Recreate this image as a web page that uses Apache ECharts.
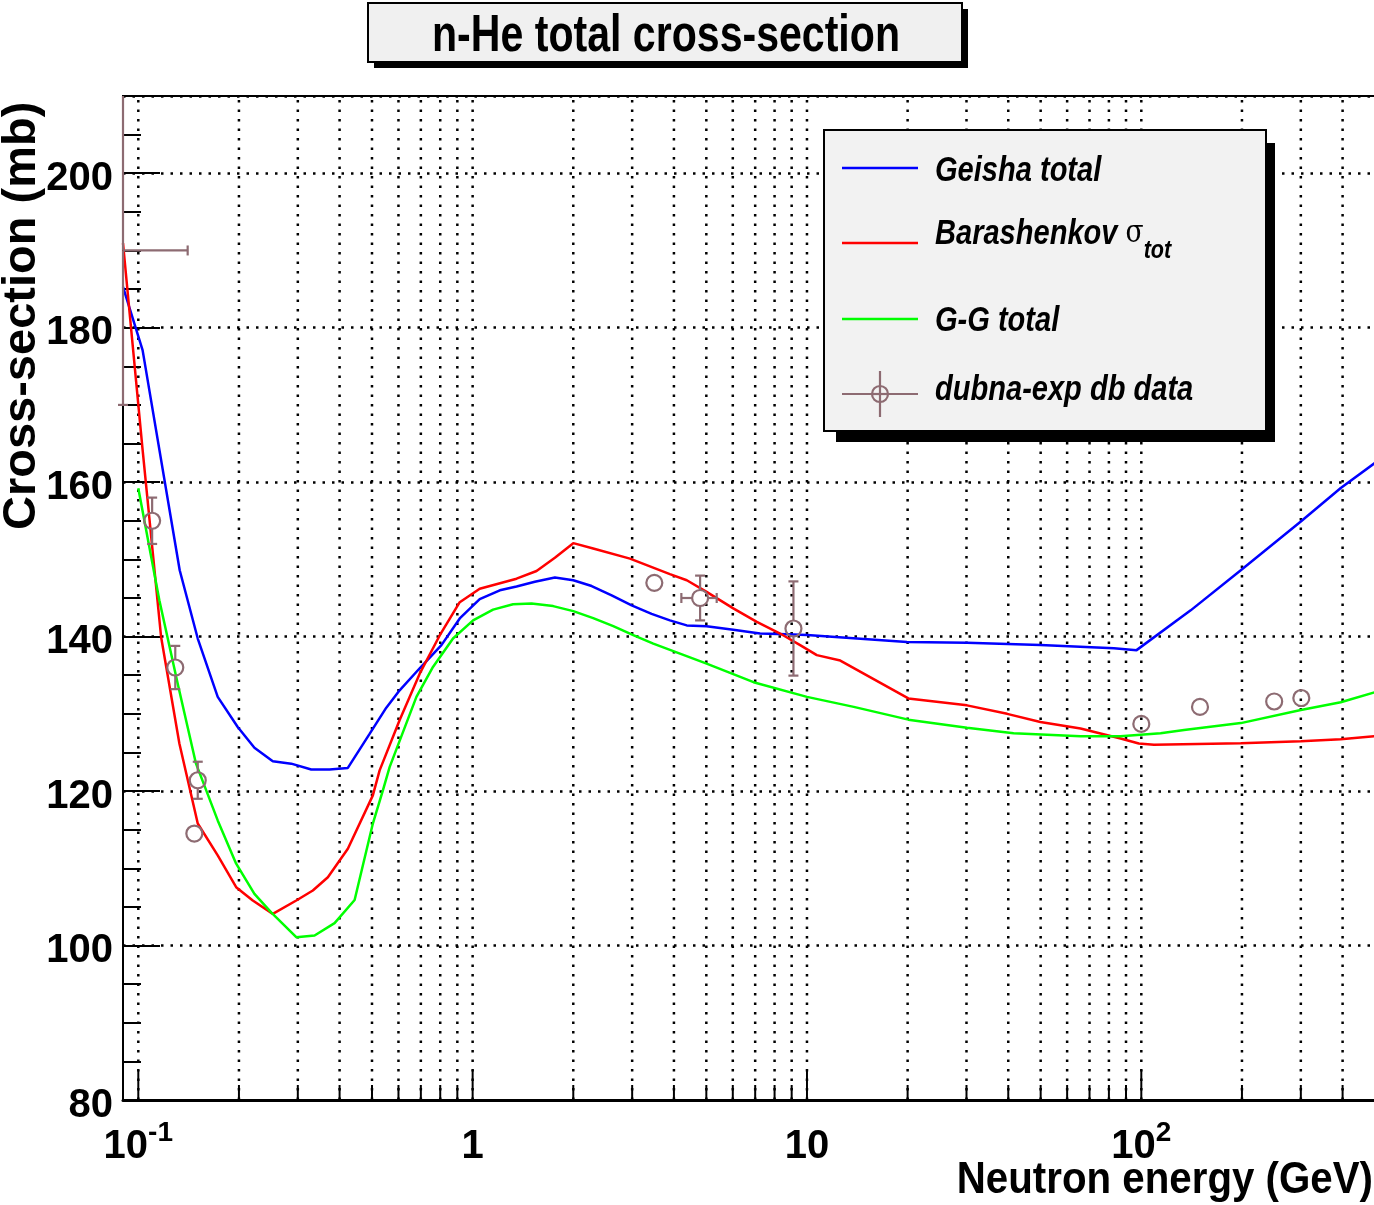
<!DOCTYPE html>
<html>
<head>
<meta charset="utf-8">
<title>n-He total cross-section</title>
<script src="https://cdn.jsdelivr.net/npm/echarts@6/dist/echarts.min.js"></script>
<style>
  html, body { margin: 0; padding: 0; background: #fff; }
  #chart { width: 1374px; height: 1205px; }
</style>
</head>
<body>
<div id="chart"></div>
<script>
// Neutron energy (GeV) and total n-He cross-section (mb) for each model
const geishaE = [0.09, 0.103, 0.133, 0.1506, 0.1728, 0.1983, 0.2225, 0.2525, 0.2867, 0.329, 0.3733, 0.4234, 0.4918, 0.5518, 0.6049, 0.6945, 0.8065, 0.915, 1.05, 1.206, 1.353, 1.535, 1.762, 2.0, 2.27, 2.605, 2.99, 3.43, 3.89, 4.37, 5.01, 6.02, 7.24, 8.7, 10, 19.9, 30.1, 49.9, 82.8, 96.8, 140.5, 198.4, 300, 395, 500];
const geishaSigma = [185.3, 177.1, 148.6, 139.75, 132.2, 128.3, 125.6, 123.85, 123.55, 122.8, 122.8, 123.0, 127.4, 130.8, 133.05, 135.9, 138.9, 142.35, 144.85, 146.0, 146.5, 147.1, 147.65, 147.3, 146.55, 145.35, 144.05, 142.95, 142.1, 141.45, 141.35, 140.9, 140.4, 140.3, 140.2, 139.3, 139.2, 138.9, 138.5, 138.25, 143.4, 148.6, 154.9, 159.25, 162.5];

const barE = [0.09, 0.103, 0.117, 0.1327, 0.1506, 0.1728, 0.1962, 0.22, 0.2525, 0.2968, 0.3327, 0.369, 0.4234, 0.503, 0.527, 0.605, 0.6945, 0.797, 0.915, 1.05, 1.353, 1.553, 1.762, 2.0, 2.294, 2.955, 3.89, 4.37, 5.01, 6.02, 7.08, 8.31, 9.54, 10.7, 12.58, 20.1, 30.1, 39.7, 49.9, 65.8, 75.5, 86.7, 98.3, 109.1, 198.4, 300, 395, 500];
const barSigma = [190.95, 164.2, 139.96, 126.15, 115.8, 111.67, 107.56, 105.83, 104.1, 105.83, 107.13, 108.85, 112.53, 119.44, 122.68, 129.2, 135.2, 140.15, 144.46, 146.2, 147.5, 148.5, 150.2, 152.1, 151.4, 150.1, 148.1, 147.3, 145.8, 143.65, 141.9, 140.4, 138.9, 137.6, 136.9, 132.0, 131.1, 130.0, 128.95, 128.1, 127.45, 126.8, 126.15, 126.0, 126.2, 126.45, 126.7, 127.1];

const ggE = [0.1, 0.1156, 0.1312, 0.1488, 0.1728, 0.1962, 0.2225, 0.2497, 0.2968, 0.3367, 0.3864, 0.4436, 0.503, 0.539, 0.5645, 0.679, 0.761, 0.8735, 1.003, 1.151, 1.321, 1.5, 1.741, 2.0, 2.294, 2.634, 3.023, 3.47, 4.17, 5.01, 6.92, 10, 13.8, 20.1, 30.1, 41.5, 65.8, 86.7, 114.2, 134.2, 198.4, 300, 395, 500];
const ggSigma = [159.2, 144.7, 133.9, 123.55, 116.2, 110.6, 106.7, 104.3, 101.08, 101.3, 102.9, 105.9, 115.8, 120.1, 123.1, 132.2, 136.07, 139.75, 142.1, 143.5, 144.2, 144.3, 143.95, 143.3, 142.4, 141.35, 140.2, 139.1, 137.8, 136.5, 134.1, 132.2, 130.9, 129.25, 128.2, 127.5, 127.1, 127.1, 127.5, 127.9, 128.8, 130.5, 131.5, 132.8];

// Dubna measurements: energy, cross-section, energy error, cross-section error
const dubnaE = [0.085, 0.11, 0.129, 0.1506, 0.1471, 3.495, 4.79, 9.11, 100, 149.8, 249.7, 301];
const dubnaSigma = [190.0, 155.0, 136.0, 121.4, 114.5, 146.96, 145.0, 141.05, 128.7, 130.9, 131.6, 132.05];
const dubnaErrE = [0.0555, 0, 0, 0, 0, 0, 0.58, 0, 0, 0, 0, 0];
const dubnaErrSigma = [20, 3.0, 2.8, 2.4, 0, 0, 2.9, 6.1, 0, 0, 0, 0];

// Logarithmic x axis: labelled decades and the 2..9 subdivisions
const xDecades = [0.1, 1, 10, 100];
const xSubTicks = [0.2, 0.3, 0.4, 0.5, 0.6, 0.7, 0.8, 0.9, 2, 3, 4, 5, 6, 7, 8, 9, 20, 30, 40, 50, 60, 70, 80, 90, 200, 300, 400];
const xMin = 0.09, xMax = 500;
const yMin = 80, yMax = 210;

const SANS = '"Liberation Sans", Arial, Helvetica, sans-serif';
const DUBNA_COLOR = '#8d6b72';
const GRID_DASH = [2.5, 7];

function pairs(xs, ys) { return xs.map((x, i) => [x, ys[i]]); }

const tickData = xDecades.map(v => [v, yMin, 1]).concat(xSubTicks.map(v => [v, yMin, 0]));
const dubnaData = dubnaE.map((e, i) => [e, dubnaSigma[i], dubnaErrE[i], dubnaErrSigma[i]]);

// dotted vertical grid line plus an inward tick for every x tick value
function renderXTick(params, api) {
  const v = api.value(0);
  const major = api.value(2) === 1;
  const b = api.coord([v, yMin]);
  const t = api.coord([v, yMax]);
  return {
    type: 'group',
    children: [
      { type: 'line', shape: { x1: b[0], y1: b[1], x2: t[0], y2: t[1] },
        style: { stroke: '#000', lineWidth: 2.5, lineDash: GRID_DASH } },
      { type: 'line', shape: { x1: b[0], y1: b[1], x2: b[0], y2: b[1] - (major ? 30 : 15) },
        style: { stroke: '#000', lineWidth: 2 } }
    ]
  };
}

// open circle with error bars, bars kept inside the frame
function renderDubna(params, api) {
  const E = api.value(0), s = api.value(1), dE = api.value(2), dS = api.value(3);
  const cs = params.coordSys;
  const L = cs.x, R = cs.x + cs.width, T = cs.y, B = cs.y + cs.height;
  const c = api.coord([E, s]);
  const cx = v => Math.min(R, Math.max(L, v));
  const cy = v => Math.min(B, Math.max(T, v));
  const style = { stroke: DUBNA_COLOR, lineWidth: 2.2, fill: null };
  const r = 8, cap = 5;
  const visible = c[0] >= L && c[0] <= R && c[1] >= T && c[1] <= B;
  const gap = visible ? r : 0;
  const kids = [];
  if (dS > 0) {
    const yTop = api.coord([E, s + dS])[1];
    const yBot = api.coord([E, s - dS])[1];
    const x = cx(c[0]);
    kids.push({ type: 'line', shape: { x1: x, y1: cy(c[1] - gap), x2: x, y2: cy(yTop) }, style });
    kids.push({ type: 'line', shape: { x1: x, y1: cy(c[1] + gap), x2: x, y2: cy(yBot) }, style });
    if (yTop > T) kids.push({ type: 'line', shape: { x1: x - cap, y1: yTop, x2: x + cap, y2: yTop }, style });
    if (yBot < B) kids.push({ type: 'line', shape: { x1: x - cap, y1: yBot, x2: x + cap, y2: yBot }, style });
  }
  if (dE > 0) {
    const xLo = api.coord([E - dE, s])[0];
    const xHi = api.coord([E + dE, s])[0];
    const y = cy(c[1]);
    kids.push({ type: 'line', shape: { x1: cx(c[0] - gap), y1: y, x2: cx(xLo), y2: y }, style });
    kids.push({ type: 'line', shape: { x1: cx(c[0] + gap), y1: y, x2: cx(xHi), y2: y }, style });
    if (xLo > L) kids.push({ type: 'line', shape: { x1: xLo, y1: y - cap, x2: xLo, y2: y + cap }, style });
    if (xHi < R) kids.push({ type: 'line', shape: { x1: xHi, y1: y - cap, x2: xHi, y2: y + cap }, style });
  }
  if (visible) kids.push({ type: 'circle', shape: { cx: c[0], cy: c[1], r }, style });
  return { type: 'group', children: kids };
}

function decadeLabel(v) {
  const lg = Math.log10(v);
  const e = Math.round(lg);
  if (Math.abs(lg - e) > 1e-6) return '';
  if (e === 0) return '{b|1}';
  if (e === 1) return '{b|10}';
  return '{b|10}{s|' + e + '}';
}

const lineSeries = (name, xs, ys, color) => ({
  name, type: 'line', data: pairs(xs, ys), showSymbol: false, symbol: 'none',
  lineStyle: { color, width: 2.5 }, itemStyle: { color }, z: 3, silent: true
});

const legendFont = { fontFamily: SANS, fontWeight: 'bold', fontStyle: 'italic', fontSize: 35, fill: '#000' };
const LEGEND_SX = 0.83;

const option = {
  animation: false,
  backgroundColor: '#fff',
  grid: {
    left: 123, top: 96, right: -1, bottom: 105,
    outerBoundsMode: 'none', containLabel: false,
    show: true, borderColor: '#000', borderWidth: 2, backgroundColor: 'transparent'
  },
  xAxis: {
    type: 'log', logBase: 10, min: xMin, max: xMax,
    axisLine: { show: true, lineStyle: { color: '#000', width: 3 } },
    axisTick: { show: false },
    minorTick: { show: false },
    splitLine: { show: false },
    axisLabel: {
      margin: 27, showMinLabel: false, showMaxLabel: false,
      formatter: decadeLabel,
      rich: {
        b: { fontFamily: SANS, fontWeight: 'bold', fontSize: 40, lineHeight: 40, color: '#000',
             verticalAlign: 'bottom', padding: [8, 0, 0, 0] },
        s: { fontFamily: SANS, fontWeight: 'bold', fontSize: 28, lineHeight: 28, color: '#000',
             verticalAlign: 'bottom', padding: [0, 0, 20, 0] }
      }
    }
  },
  yAxis: [
    {
      type: 'value', min: yMin, max: yMax, interval: 20, position: 'left',
      axisLine: { show: true, lineStyle: { color: '#000', width: 2 } },
      axisTick: { show: true, inside: true, length: 37, lineStyle: { color: '#000', width: 2 } },
      axisLabel: {
        fontFamily: SANS, fontWeight: 'bold', fontSize: 40, color: '#000',
        margin: 10, showMaxLabel: false, verticalAlign: 'top', lineHeight: 11
      },
      splitLine: { show: true, lineStyle: { color: '#000', width: 2.5, type: GRID_DASH } }
    },
    {
      type: 'value', min: yMin, max: yMax, interval: 5, position: 'left',
      axisLine: { show: false },
      axisTick: { show: true, inside: true, length: 18, lineStyle: { color: '#000', width: 2 } },
      axisLabel: { show: false },
      splitLine: { show: false }
    }
  ],
  series: [
    {
      name: 'x grid', type: 'custom', renderItem: renderXTick, data: tickData,
      encode: { x: 0, y: 1 }, z: 1, silent: true, clip: false
    },
    lineSeries('Geisha total', geishaE, geishaSigma, '#0000ff'),
    lineSeries('Barashenkov', barE, barSigma, '#ff0000'),
    lineSeries('G-G total', ggE, ggSigma, '#00ff00'),
    {
      name: 'dubna-exp db data', type: 'custom', renderItem: renderDubna, data: dubnaData,
      encode: { x: 0, y: 1 }, z: 4, silent: true, clip: false
    }
  ],
  graphic: [
    // title box with drop shadow
    { type: 'rect', shape: { x: 374, y: 9, width: 594, height: 59 }, style: { fill: '#000' }, z: 1 },
    { type: 'rect', shape: { x: 368, y: 3, width: 594, height: 59 }, style: { fill: '#f0f0f0', stroke: '#000', lineWidth: 2 }, z: 2 },
    { type: 'text', x: 666, y: 37, scaleX: 0.79, z: 3,
      style: { text: 'n-He total cross-section', fontFamily: SANS, fontWeight: 'bold', fontSize: 52,
               fill: '#000', align: 'center', verticalAlign: 'middle' } },
    // axis titles
    { type: 'text', x: 46, y: 530, rotation: Math.PI / 2, z: 3,
      style: { text: 'Cross-section (mb)', fontFamily: SANS, fontWeight: 'bold', fontSize: 47,
               fill: '#000', align: 'left', verticalAlign: 'bottom' } },
    { type: 'text', x: 1373, y: 1181, scaleX: 0.895, z: 3,
      style: { text: 'Neutron energy (GeV)', fontFamily: SANS, fontWeight: 'bold', fontSize: 45,
               fill: '#000', align: 'right', verticalAlign: 'middle' } },
    // legend box with drop shadow
    { type: 'rect', shape: { x: 836, y: 143, width: 439, height: 299 }, style: { fill: '#000' }, z: 100 },
    { type: 'rect', shape: { x: 824, y: 130, width: 442, height: 301 }, style: { fill: '#f2f2f2', stroke: '#000', lineWidth: 2 }, z: 101 },
    { type: 'line', shape: { x1: 842, y1: 168, x2: 918, y2: 168 }, style: { stroke: '#0000ff', lineWidth: 2.5 }, z: 102 },
    { type: 'line', shape: { x1: 842, y1: 243, x2: 918, y2: 243 }, style: { stroke: '#ff0000', lineWidth: 2.5 }, z: 102 },
    { type: 'line', shape: { x1: 842, y1: 319, x2: 918, y2: 319 }, style: { stroke: '#00ff00', lineWidth: 2.5 }, z: 102 },
    { type: 'line', shape: { x1: 842, y1: 394, x2: 918, y2: 394 }, style: { stroke: DUBNA_COLOR, lineWidth: 2.2 }, z: 102 },
    { type: 'line', shape: { x1: 880, y1: 371, x2: 880, y2: 417 }, style: { stroke: DUBNA_COLOR, lineWidth: 2.2 }, z: 102 },
    { type: 'circle', shape: { cx: 880, cy: 394, r: 8 }, style: { fill: '#f2f2f2', stroke: DUBNA_COLOR, lineWidth: 2.2 }, z: 103 },
    { type: 'line', shape: { x1: 872, y1: 394, x2: 888, y2: 394 }, style: { stroke: DUBNA_COLOR, lineWidth: 2.2 }, z: 104 },
    { type: 'line', shape: { x1: 880, y1: 386, x2: 880, y2: 402 }, style: { stroke: DUBNA_COLOR, lineWidth: 2.2 }, z: 104 },
    { type: 'text', x: 935, y: 171, scaleX: LEGEND_SX, z: 105,
      style: Object.assign({ text: 'Geisha total', verticalAlign: 'middle' }, legendFont) },
    { type: 'text', x: 935, y: 217, scaleX: LEGEND_SX, z: 105,
      style: Object.assign({
        text: '{a|Barashenkov }{g|σ}{t|tot}', verticalAlign: 'top',
        rich: {
          a: { fontFamily: SANS, fontWeight: 'bold', fontStyle: 'italic', fontSize: 35, lineHeight: 35, verticalAlign: 'top' },
          g: { fontFamily: '"DejaVu Serif", serif', fontWeight: 'normal', fontStyle: 'normal', fontSize: 32, lineHeight: 35, verticalAlign: 'top', padding: [1, 0, 0, 0] },
          t: { fontFamily: SANS, fontWeight: 'bold', fontStyle: 'italic', fontSize: 26, lineHeight: 26, verticalAlign: 'top', padding: [21, 0, 0, 0] }
        }
      }, legendFont) },
    { type: 'text', x: 935, y: 321, scaleX: LEGEND_SX, z: 105,
      style: Object.assign({ text: 'G-G total', verticalAlign: 'middle' }, legendFont) },
    { type: 'text', x: 935, y: 390, scaleX: LEGEND_SX, z: 105,
      style: Object.assign({ text: 'dubna-exp db data', verticalAlign: 'middle' }, legendFont) }
  ]
};

const chart = echarts.init(document.getElementById('chart'), null, { renderer: 'canvas' });
chart.setOption(option);
</script>
</body>
</html>
